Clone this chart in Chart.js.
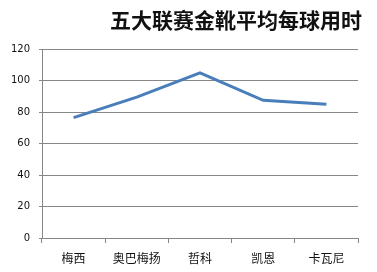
<!DOCTYPE html>
<html>
<head>
<meta charset="utf-8">
<script src="https://cdn.jsdelivr.net/npm/chart.js@4"></script>
<style>
html,body{margin:0;padding:0;background:#fff;}
#wrap{width:377px;height:272px;position:relative;}
</style>
</head>
<body>
<div id="wrap"><canvas id="c" width="377" height="272"></canvas></div>
<script>
const title = "五大联赛金靴平均每球用时";
const categories = ["梅西", "奥巴梅扬", "哲科", "凯恩", "卡瓦尼"];
const minutesPerGoal = [76.5, 89.5, 105, 87.5, 85];
const yTicks = [0, 20, 40, 60, 80, 100, 120];

const gridGray = "#878787";

new Chart(document.getElementById("c"), {
  type: "line",
  data: {
    labels: categories,
    datasets: [{
      data: minutesPerGoal,
      borderColor: "#4a7ebb",
      borderWidth: 3,
      pointRadius: 0,
      tension: 0,
      fill: false,
      yAxisID: "y"
    }]
  },
  options: {
    responsive: false,
    animation: false,
    devicePixelRatio: 1,
    layout: { padding: { left: 0, right: 15, top: 0, bottom: 0 } },
    plugins: {
      legend: { display: false },
      tooltip: { enabled: false },
      title: {
        display: true,
        text: title,
        align: "end",
        color: "#111",
        font: { family: "'Noto Sans CJK SC'", size: 21, weight: "bold" },
        padding: { top: 7, bottom: 17 }
      }
    },
    scales: {
      x: {
        type: "category",
        offset: true,
        grid: {
          offset: true,
          drawOnChartArea: false,
          drawTicks: true,
          tickLength: 5,
          color: gridGray,
          lineWidth: 1
        },
        border: { display: true, color: gridGray, width: 1 },
        ticks: {
          color: "#111",
          font: { family: "'Noto Sans CJK SC'", size: 12 },
          padding: 8,
          maxRotation: 0,
          autoSkip: false
        },
        afterFit: (s) => { s.height = 34; }
      },
      y: {
        type: "linear",
        position: "left",
        min: 0,
        max: 120,
        afterBuildTicks: (s) => { s.ticks = yTicks.map(v => ({ value: v })); },
        grid: {
          drawTicks: true,
          tickLength: 3,
          color: gridGray,
          lineWidth: 1
        },
        border: { display: true, color: gridGray, width: 1 },
        ticks: {
          color: "#111",
          font: { family: "'DejaVu Sans'", size: 10 },
          padding: 9
        },
        afterFit: (s) => { s.width = 42; }
      },
      yR: {
        type: "linear",
        position: "right",
        display: true,
        grid: { display: false, drawTicks: false },
        border: { display: false },
        ticks: { display: false },
        afterFit: (s) => { s.width = 4; }
      }
    }
  }
});
</script>
</body>
</html>
